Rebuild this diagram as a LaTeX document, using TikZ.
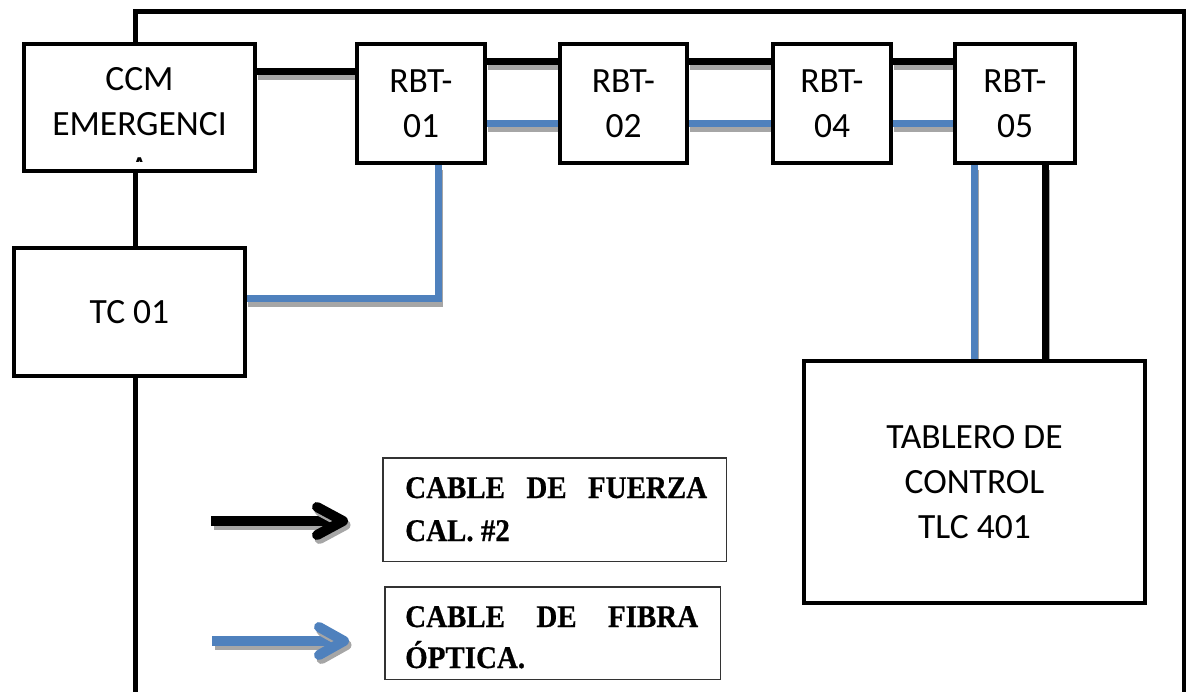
\documentclass[tikz,border=0pt]{standalone}
\usepackage{fontspec}
\setmainfont{Carlito}
\newfontfamily\legendfont[FakeStretch=0.92, BoldFeatures={FakeBold=0.6}]{Liberation Serif}
\usetikzlibrary{backgrounds}
\definecolor{fiberblue}{HTML}{4F81BD}
\definecolor{dropgray}{HTML}{A6A6A6}

% a cable run: a grey copy offset down-right, then the cable itself
\newcommand\cablerun[3][1pt,-5pt]{%
  \begin{scope}[transform canvas={xshift=0pt, shift={(#1)}}]
    \draw[#2, draw=dropgray] #3;
  \end{scope}
  \draw[#2] #3;}

\begin{document}
\begin{tikzpicture}[x=1pt,y=-1pt,
  box/.style={draw=black, line width=4.5pt, fill=white, inner sep=0pt,
    font=\fontsize{35.5}{45}\selectfont, align=center},
  power/.style={draw=black, line width=7pt},
  fiber/.style={draw=fiberblue, line width=7pt},
  border/.style={draw=black, line width=5pt},
  legbox/.style={draw=black!80, line width=1.5pt, fill=white, inner sep=0pt},
  legtext/.style={font=\legendfont\bfseries\fontsize{31.5}{44}\selectfont, inner sep=0pt},
  legshaft/.style={line width=10pt},
  legchevron/.style={line width=10pt, line cap=round, line join=round},
]
\useasboundingbox (0,0) rectangle (1186,692);

% frame corners
\coordinate (bl) at (135,692);
\coordinate (tl) at (135,12);
\coordinate (tr) at (1184,12);
\coordinate (br) at (1184,692);

% equipment
\node[box, minimum width=231pt, minimum height=127pt] (ccm) at (139.5,107.5) {};
\begin{scope}
  \clip (24,44) rectangle (255,162);
  \node[font=\fontsize{35.5}{45}\selectfont, align=center, inner sep=0pt] (ccmtxt) at (139.5,124) {CCM\\EMERGENCI\\A};
\end{scope}
\node[box, minimum width=231pt, minimum height=128pt] (tc) at (129.5,312) {TC 01};
\node[box, minimum width=128pt, minimum height=119pt] (r1) at (421,103.5) {RBT-\\01};
\node[box, minimum width=127pt, minimum height=119pt] (r2) at (623.5,103.5) {RBT-\\02};
\node[box, minimum width=118pt, minimum height=119pt] (r4) at (832,103.5) {RBT-\\04};
\node[box, minimum width=120pt, minimum height=119pt] (r5) at (1015,103.5) {RBT-\\05};
\node[box, minimum width=341pt, minimum height=242pt] (tlc) at (974.5,482) {TABLERO DE\\CONTROL\\TLC 401};

% cabling
\begin{scope}[on background layer]
  \draw[border] (bl) -- (tl) -- (tr) -- (br);
  \cablerun{power}{([yshift=36pt]ccm.east) -- ([yshift=36pt]ccm.east -| r1.west)}
  \cablerun{power}{([yshift=41.5pt]r1.east) -- ([yshift=41.5pt]r1.east -| r2.west)}
  \cablerun{power}{([yshift=41.5pt]r2.east) -- ([yshift=41.5pt]r2.east -| r4.west)}
  \cablerun{power}{([yshift=41.5pt]r4.east) -- ([yshift=41.5pt]r4.east -| r5.west)}
  \cablerun{fiber}{([yshift=-20pt]r1.east) -- ([yshift=-20pt]r1.east -| r2.west)}
  \cablerun{fiber}{([yshift=-20pt]r2.east) -- ([yshift=-20pt]r2.east -| r4.west)}
  \cablerun{fiber}{([yshift=-20pt]r4.east) -- ([yshift=-20pt]r4.east -| r5.west)}
  \cablerun{fiber}{([xshift=17pt]r1.south) |- ([yshift=13.5pt]tc.east)}
  \cablerun{fiber}{(tlc.north |- r5.south) -- (tlc.north)}
  \cablerun{power}{([xshift=30pt]r5.south) -- ([xshift=30pt]r5.south |- tlc.north)}
\end{scope}

% legend
\node[legbox, minimum width=343.5pt, minimum height=103.5pt] (leg1) at (554.5,509.5) {};
\node[legbox, minimum width=335.5pt, minimum height=92.5pt] (leg2) at (552.5,633) {};
\node[legtext, anchor=base west] (leg1a) at (405,498) {\hbox to 302pt{CABLE\hfill DE\hfill FUERZA}};
\node[legtext, anchor=base west] (leg1b) at (405,541) {CAL. \#2};
\node[legtext, anchor=base west] (leg2a) at (405,627) {\hbox to 293pt{CABLE\hfill DE\hfill FIBRA}};
\node[legtext, anchor=base west] (leg2b) at (405,668) {ÓPTICA.};

\coordinate (pa0) at (211,521);
\coordinate (pa1) at (343,521);
\cablerun[2.5pt,-4pt]{legshaft, draw=black}{(pa0) -- ([xshift=-5pt]pa1)}
\cablerun[2.5pt,-4pt]{legchevron, draw=black}{([shift={(-26pt,14pt)}]pa1) -- (pa1) -- ([shift={(-26pt,-14pt)}]pa1)}

\coordinate (fa0) at (212,641);
\coordinate (fa1) at (344,641);
\cablerun[2.5pt,-4pt]{legshaft, draw=fiberblue}{(fa0) -- ([xshift=-5pt]fa1)}
\cablerun[2.5pt,-4pt]{legchevron, draw=fiberblue}{([shift={(-25pt,14pt)}]fa1) -- (fa1) -- ([shift={(-25pt,-14pt)}]fa1)}
\end{tikzpicture}
\end{document}
